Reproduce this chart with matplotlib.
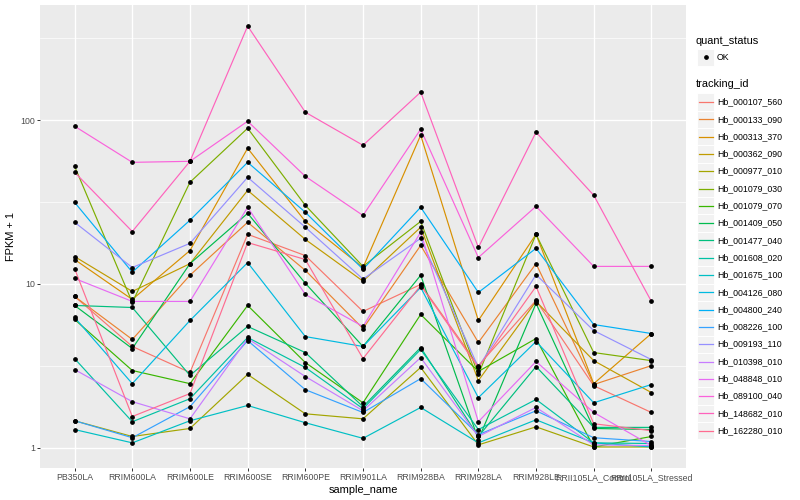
import numpy as np
import matplotlib
matplotlib.use("Agg")
import matplotlib.pyplot as plt
from matplotlib.patches import Rectangle
from matplotlib.ticker import FixedLocator, NullFormatter

plt.rcParams['font.family'] = ['Liberation Sans', 'DejaVu Sans']

samples = ["PB350LA", "RRIM600LA", "RRIM600LE", "RRIM600SE", "RRIM600PE",
           "RRIM901LA", "RRIM928BA", "RRIM928LA", "RRIM928LE",
           "RRII105LA_Control", "RRII105LA_Stressed"]

tracking_ids = ["Hb_000107_560", "Hb_000133_090", "Hb_000313_370", "Hb_000362_090",
                "Hb_000977_010", "Hb_001079_030", "Hb_001079_070", "Hb_001409_050",
                "Hb_001477_040", "Hb_001608_020", "Hb_001675_100", "Hb_004126_080",
                "Hb_004800_240", "Hb_008226_100", "Hb_009193_110", "Hb_010398_010",
                "Hb_048848_010", "Hb_089100_040", "Hb_148682_010", "Hb_162280_010"]

# FPKM + 1, one list per tracking_id, in sample order
hb_000107_560 = [8.39, 4.15, 2.88, 20.1, 14.9, 6.79, 9.93, 3.17, 7.93, 2.39, 1.64]
hb_000133_090 = [8.39, 4.58, 11.3, 23.8, 12.1, 5.34, 17.2, 4.39, 13.3, 2.43, 3.17]
hb_000313_370 = [14.1, 8.04, 16.0, 67.4, 24.1, 12.6, 81.0, 5.98, 20.1, 2.46, 4.98]
hb_000362_090 = [14.7, 9.00, 13.3, 37.3, 18.7, 10.4, 22.2, 2.57, 7.82, 3.40, 2.17]
hb_000977_010 = [1.46, 1.17, 1.31, 2.80, 1.61, 1.50, 3.09, 1.04, 1.34, 1.01, 1.01]
hb_001079_030 = [52.3, 7.71, 41.8, 89.3, 30.2, 12.8, 24.1, 2.80, 20.1, 3.81, 3.40]
hb_001079_070 = [6.07, 2.96, 2.46, 7.39, 3.31, 1.88, 6.51, 2.92, 4.64, 1.01, 1.17]
hb_001409_050 = [7.39, 4.03, 13.3, 27.0, 10.1, 4.15, 11.3, 1.12, 7.60, 1.31, 1.29]
hb_001477_040 = [7.39, 7.18, 2.76, 5.50, 3.81, 1.78, 4.09, 1.17, 3.13, 1.33, 1.33]
hb_001608_020 = [3.50, 1.44, 1.99, 4.71, 3.09, 1.73, 3.98, 1.29, 1.97, 1.07, 1.06]
hb_001675_100 = [1.29, 1.07, 1.46, 1.81, 1.42, 1.14, 1.76, 1.07, 1.48, 1.07, 1.01]
hb_004126_080 = [6.24, 2.46, 5.98, 13.5, 4.77, 4.15, 9.52, 2.02, 4.45, 1.88, 2.43]
hb_004800_240 = [31.5, 11.8, 24.5, 55.3, 27.4, 12.3, 29.4, 8.87, 16.5, 5.65, 4.98]
hb_008226_100 = [1.46, 1.15, 1.78, 4.51, 2.26, 1.64, 2.64, 1.20, 1.68, 1.15, 1.09]
hb_009193_110 = [23.8, 12.6, 17.7, 44.8, 22.2, 10.7, 19.0, 3.09, 11.4, 5.19, 3.45]
hb_010398_010 = [3.00, 1.91, 1.50, 4.64, 2.72, 1.68, 3.55, 1.17, 1.76, 1.04, 1.03]
hb_048848_010 = [10.8, 7.82, 7.82, 29.4, 8.62, 5.50, 20.7, 1.44, 3.36, 1.64, 1.03]
hb_089100_040 = [91.9, 55.3, 56.1, 98.6, 45.4, 26.2, 88.1, 14.5, 29.8, 12.8, 12.8]
hb_148682_010 = [48.1, 20.9, 56.1, 376.0, 111.9, 70.3, 148.4, 16.7, 84.5, 34.8, 7.82]
hb_162280_010 = [12.4, 1.55, 2.14, 17.9, 14.1, 3.50, 9.79, 3.09, 9.65, 1.40, 1.27]

series = [hb_000107_560, hb_000133_090, hb_000313_370, hb_000362_090, hb_000977_010,
          hb_001079_030, hb_001079_070, hb_001409_050, hb_001477_040, hb_001608_020,
          hb_001675_100, hb_004126_080, hb_004800_240, hb_008226_100, hb_009193_110,
          hb_010398_010, hb_048848_010, hb_089100_040, hb_148682_010, hb_162280_010]

# ggplot2 default hue palette for 20 levels
colors = ["#F8766D", "#EA8331", "#D89000", "#C09B00", "#A3A500", "#7CAE00", "#39B600",
          "#00BB4E", "#00BF7D", "#00C1A3", "#00BFC4", "#00BAE0", "#00B0F6", "#35A2FF",
          "#9590FF", "#C77CFF", "#E76BF3", "#FA62DB", "#FF62BC", "#FF6C91"]

fig = plt.figure(figsize=(8, 5), dpi=100)
ax = fig.add_axes([40 / 800, 1 - 468 / 500, 646 / 800, 463 / 500])
ax.set_facecolor("#EBEBEB")
for s in ax.spines.values():
    s.set_visible(False)

x = np.arange(len(samples))
for vals, col in zip(series, colors):
    ax.plot(x, vals, color=col, lw=0.85, zorder=3)
for vals in series:
    ax.plot(x, vals, "o", color="black", ms=2.4, zorder=4)

ax.set_yscale("log")
allv = np.log10(np.concatenate(series))
lo, hi = allv.min(), allv.max()
pad = (hi - lo) * 0.05
ax.set_ylim(10 ** (lo - pad), 10 ** (hi + pad))
ax.set_xlim(-0.6, len(samples) - 1 + 0.6)

ax.yaxis.set_major_locator(FixedLocator([1, 10, 100]))
ax.set_yticklabels(["1", "10", "100"])
ax.yaxis.set_minor_locator(FixedLocator([10 ** 0.5, 10 ** 1.5, 10 ** 2.5]))
ax.yaxis.set_minor_formatter(NullFormatter())
ax.set_xticks(x)
ax.set_xticklabels(samples)

ax.grid(True, which="major", color="white", lw=1.0, zorder=0)
ax.grid(True, which="minor", axis="y", color="white", lw=0.5, zorder=0)
ax.set_axisbelow(True)
ax.tick_params(which="major", length=2.0, width=0.7, color="#333333",
               labelsize=6.3, labelcolor="#4D4D4D", pad=1.6)
ax.tick_params(which="minor", length=0)

ax.set_xlabel("sample_name", fontsize=7.9, labelpad=2)
ax.set_ylabel("FPKM + 1", fontsize=7.9, labelpad=3)

# legend drawn in pixel coordinates
lg = fig.add_axes([0, 0, 1, 1], zorder=5)
lg.set_xlim(0, 800)
lg.set_ylim(500, 0)
lg.axis("off")
lg.patch.set_alpha(0)

lg.text(696, 41, "quant_status", fontsize=7.9, va="center", ha="left")
lg.add_patch(Rectangle((697, 48.5), 17.3, 17.3, facecolor="#F2F2F2", edgecolor="white", lw=0.7))
lg.plot([705.6], [57.2], "o", color="black", ms=2.4)
lg.text(717, 57.2, "OK", fontsize=6.3, va="center", ha="left")

lg.text(696, 84, "tracking_id", fontsize=7.9, va="center", ha="left")
step = 17.3
for i, (tid, col) in enumerate(zip(tracking_ids, colors)):
    cy = 102 + i * step
    lg.add_patch(Rectangle((697, cy - step / 2), 17.3, step, facecolor="#F2F2F2",
                           edgecolor="white", lw=0.7))
    lg.plot([699, 712.5], [cy, cy], color=col, lw=0.9)
    lg.text(717, cy, tid, fontsize=6.3, va="center", ha="left")

fig.savefig("out.png", dpi=100)
